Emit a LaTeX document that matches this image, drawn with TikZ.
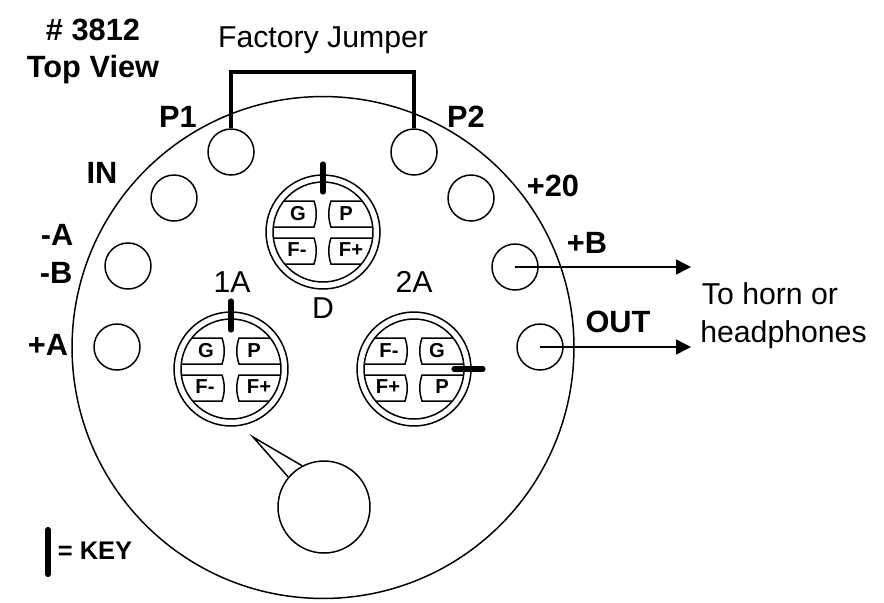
\documentclass[tikz,border=0pt]{standalone}
\usepackage{fontspec}
\setmainfont{Liberation Sans}
\usetikzlibrary{arrows.meta}
\tikzset{
	pin/.style={draw, circle, inner sep=0pt, minimum size=0.92cm},
	lbl/.style={font=\bfseries\fontsize{17.5}{20}\selectfont, inner sep=0pt},
	txt/.style={font=\fontsize{17.2}{20}\selectfont, inner sep=0pt},
	tab/.style={font=\bfseries\fontsize{11.5}{13}\selectfont, inner sep=0pt},
	keybar/.style={line width=2.9pt, line cap=round},
}
\begin{document}
\begin{tikzpicture}[x=0.02cm, y=-0.02cm, line width=0.85pt]
	\useasboundingbox (0,0) rectangle (884,602);

	\node[draw, circle, inner sep=0pt, minimum size=10.04cm] (body) at (323,347.5) {};

	\node[pin] (pinPa) at (231,152) {};
	\node[pin] (pinPb) at (414,152) {};
	\node[pin] (pinIn) at (174,198) {};
	\node[pin] (pinTw) at (471,198) {};
	\node[pin] (pinMi) at (128,266) {};
	\node[pin] (pinBp) at (515,267) {};
	\node[pin] (pinAp) at (117,347) {};
	\node[pin] (pinOu) at (540,347) {};

	% sockets
	\foreach \sname/\sx/\sy/\la/\lb/\lc/\ld in {sockD/323/232/G/P/F-/F+, sockA/231/369/G/P/F-/F+, sockB/414/369/F-/G/F+/P} {
		\begin{scope}[shift={(\sx,\sy)}]
			\node[draw, circle, inner sep=0pt, minimum size=2.28cm] (\sname) at (0,0) {};
			\node[draw, circle, inner sep=0pt, minimum size=2cm] (\sname i) at (0,0) {};
			\begin{scope}
				\clip (0,0) circle (50);
				\draw (-60,-31) -- (-9,-31) .. controls (-6,-22) and (-6,-14) .. (-9,-5) -- (-60,-5);
				\draw (60,-31) -- (8,-31) .. controls (5,-22) and (5,-14) .. (8,-5) -- (60,-5);
				\draw (-60,6) -- (-9,6) .. controls (-6,15) and (-6,23) .. (-9,32) -- (-60,32);
				\draw (60,6) -- (8,6) .. controls (5,15) and (5,23) .. (8,32) -- (60,32);
			\end{scope}
			\node[tab] (\sname a) at (-25,-18) {\la};
			\node[tab] (\sname b) at (23,-18) {\lb};
			\node[tab] (\sname c) at (-26,18) {\lc};
			\node[tab] (\sname d) at (28,18) {\ld};
		\end{scope}
	}

	% keys
	\draw[keybar] (323,164) -- (323,192);
	\draw[keybar] (231,301) -- (231,330);
	\draw[keybar] (454,369) -- (483,369);
	\draw[keybar] (48,529.5) -- (48,574.5);

	% horn
	\node[pin, minimum size=1.84cm] (horn) at (324,507) {};
	\coordinate (tip) at (253,437);
	\draw (horn.140) -- (tip) -- (horn.118);

	% jumper and outputs
	\coordinate (jumpL) at (231,72);
	\coordinate (jumpR) at (414,72);
	\draw[line width=2.6pt] (pinPa.north) -- (jumpL) -- (jumpR) -- (pinPb.north);
	\coordinate (outB) at (691,267);
	\coordinate (outO) at (691,347);
	\draw[-{Triangle[length=8.5pt, width=8.5pt]}] (pinBp.center) -- (outB);
	\draw[-{Triangle[length=8.5pt, width=8.5pt]}] (pinOu.center) -- (outO);

	\node[lbl] (num) at (93,30) {\# 3812};
	\node[lbl] (top) at (93,70) {Top View};
	\node[txt] (fac) at (323,40) {Factory Jumper};
	\node[lbl] (pa) at (178,117) {P1};
	\node[lbl] (pb) at (466,117) {P2};
	\node[lbl] (in) at (102,173) {IN};
	\node[lbl] (tw) at (553,186) {+20};
	\node[lbl] (ma) at (57,235) {-A};
	\node[lbl] (mb) at (56,273) {-B};
	\node[lbl] (ap) at (48,345) {+A};
	\node[lbl] (bp) at (587,243) {+B};
	\node[lbl] (ou) at (618,322) {OUT};
	\node[txt] (oa) at (232,282) {1A};
	\node[txt] (ob) at (414,282) {2A};
	\node[txt] (od) at (323,308) {D};
	\node[txt] (hna) at (770,294) {To horn or};
	\node[txt] (hnb) at (783.5,335) {headphones};
	\node[lbl, font=\bfseries\fontsize{14.5}{16}\selectfont] (ky) at (95,551) {= KEY};
\end{tikzpicture}
\end{document}
